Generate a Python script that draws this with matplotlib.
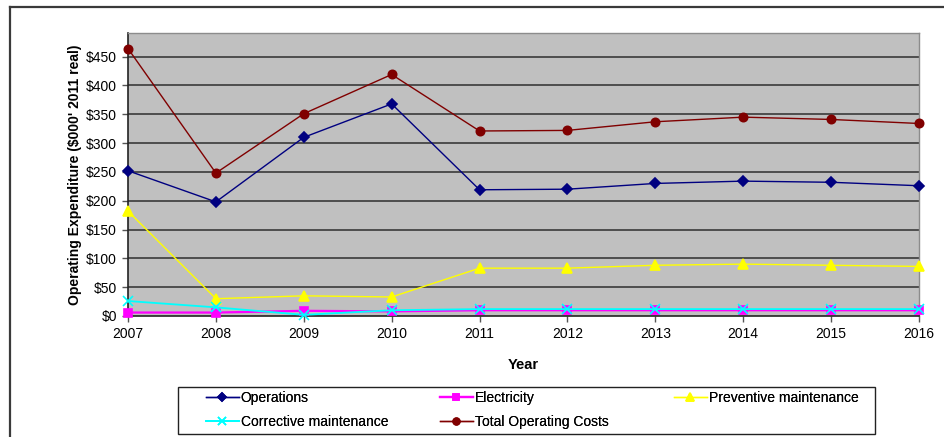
import matplotlib
matplotlib.use("Agg")
import matplotlib.pyplot as plt
from matplotlib.lines import Line2D
from matplotlib.patches import Rectangle

plt.rcParams['font.family'] = ['Liberation Sans', 'DejaVu Sans']

years = [2007, 2008, 2009, 2010, 2011, 2012, 2013, 2014, 2015, 2016]
operations = [252, 198, 310, 368, 219, 220, 230, 234, 232, 226]
electricity = [6, 6, 9, 8, 10, 10, 10, 10, 10, 10]
preventive = [182, 30, 35, 33, 83, 83, 88, 90, 88, 86]
corrective = [26, 15, 2, 10, 12, 12, 12, 12, 12, 12]
total = [464, 248, 351, 419, 321, 322, 337, 345, 341, 334]
y_ticks = [0, 50, 100, 150, 200, 250, 300, 350, 400, 450]

W, H = 944, 437
fig = plt.figure(figsize=(W / 100, H / 100), dpi=100)

# outer chart frame (runs off the right and bottom edges)
frame_col = '#3a3a3a'
fig.add_artist(Line2D([10 / W, 1.0], [1 - 7 / H, 1 - 7 / H], color=frame_col, lw=1.6,
                      transform=fig.transFigure))
fig.add_artist(Line2D([10 / W, 10 / W], [1 - 7 / H, 0.0], color=frame_col, lw=1.6,
                      transform=fig.transFigure))

left, right, top, bottom = 128, 919, 33, 316
ax = fig.add_axes([left / W, 1 - bottom / H, (right - left) / W, (bottom - top) / H])
ax.set_facecolor('#c0c0c0')
ax.set_xlim(years[0], years[-1])
ax.set_ylim(0, 491)

for y in y_ticks[1:]:
    ax.axhline(y, color='#2e2e2e', lw=1.1, zorder=1)

series = [
    ('Operations', operations, '#000080', 'D', 5, 1.0),
    ('Electricity', electricity, '#ff00ff', 's', 6, 1.6),
    ('Preventive maintenance', preventive, '#ffff00', '^', 7, 1.0),
    ('Corrective maintenance', corrective, '#00ffff', 'x', 7, 1.3),
    ('Total Operating Costs', total, '#800000', 'o', 6, 1.0),
]
handles = {}
for name, vals, col, mk, ms, lw in series:
    h, = ax.plot(years, vals, color=col, marker=mk, markersize=ms, lw=lw,
                 markeredgecolor=col, markerfacecolor=col, markeredgewidth=1.2,
                 clip_on=False, zorder=3, label=name)
    handles[name] = h

ax.set_yticks(y_ticks)
ax.set_yticklabels([f'\\${v}' for v in y_ticks])
ax.set_xticks(years)
ax.set_xticklabels([str(y) for y in years])
ax.tick_params(axis='both', direction='out', length=4, width=1, color='#555555',
               labelsize=10, pad=4)

for s in ['left', 'bottom']:
    ax.spines[s].set_color('#222222')
    ax.spines[s].set_linewidth(1.2)
for s in ['top', 'right']:
    ax.spines[s].set_color('#8c8c8c')
    ax.spines[s].set_linewidth(1.0)

ax.set_ylabel("Operating Expenditure (\\$000' 2011 real)", fontsize=10,
              fontweight='bold', labelpad=3)
ax.set_xlabel('Year', fontsize=10.5, fontweight='bold', labelpad=12)

# legend box with three evenly spaced columns
fig.add_artist(Rectangle((178 / W, 1 - 434 / H), (875 - 178) / W, (434 - 387) / H,
                         transform=fig.transFigure, fill=False, edgecolor='#222222',
                         lw=1.0))
columns = [
    (206, ['Operations', 'Corrective maintenance']),
    (440, ['Electricity', 'Total Operating Costs']),
    (674, ['Preventive maintenance']),
]
for x0, names in columns:
    leg = fig.legend(handles=[handles[n] for n in names], loc='upper left',
                     bbox_to_anchor=(x0 / W, 1 - 391 / H), fontsize=10,
                     frameon=False, handlelength=2.35, handletextpad=0.15,
                     borderaxespad=0, borderpad=0, labelspacing=0.72)
    for lh in leg.legend_handles:
        lh.set_markersize(lh.get_markersize() * 0.8)
    fig.add_artist(leg)

fig.savefig('out.png', dpi=100)
